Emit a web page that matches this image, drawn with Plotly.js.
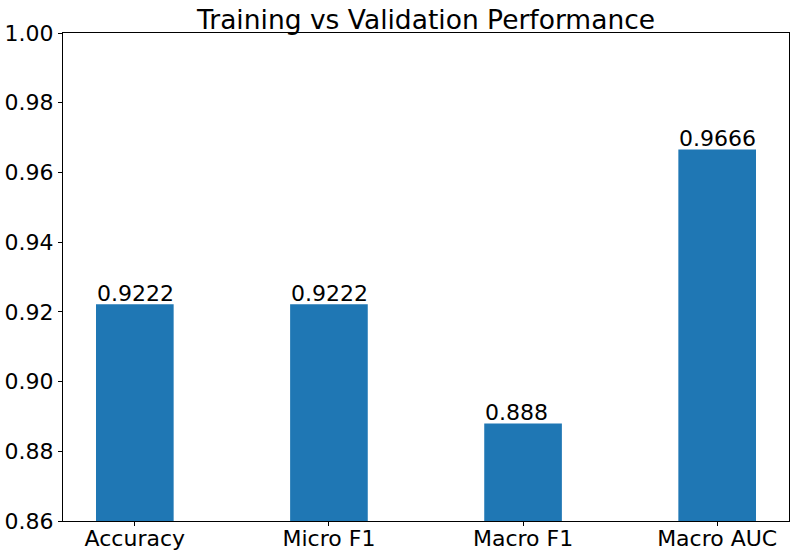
<!DOCTYPE html>
<html>
<head>
<meta charset="utf-8">
<script src="https://cdn.plot.ly/plotly-3.0.1.min.js"></script>
<style>html,body{margin:0;padding:0;background:#fff;}#chart{width:796px;height:556px;}</style>
</head>
<body>
<div id="chart"></div>
<script>
const categories = ["Accuracy", "Micro F1", "Macro F1", "Macro AUC"];
const values = [0.9222, 0.9222, 0.888, 0.9666];
const valueLabels = ["0.9222", "0.9222", "0.888", "0.9666"];
const yTicks = [0.86, 0.88, 0.90, 0.92, 0.94, 0.96, 0.98, 1.00];
const yTickText = ["0.86", "0.88", "0.90", "0.92", "0.94", "0.96", "0.98", "1.00"];

const barWidth = 0.4;
const font = "DejaVu Sans, sans-serif";

const trace = {
  type: "bar",
  x: categories.map((c, i) => i),
  y: values,
  width: barWidth,
  marker: {color: "#1f77b4", line: {width: 0}},
  hoverinfo: "skip"
};

const annotations = values.map((v, i) => ({
  x: i - barWidth / 2,
  y: v,
  xref: "x",
  yref: "y",
  text: valueLabels[i],
  showarrow: false,
  xanchor: "left",
  yanchor: "bottom",
  borderpad: 0,
  yshift: -3,
  font: {family: font, size: 22, color: "#000"}
}));

const layout = {
  width: 796,
  height: 556,
  margin: {l: 63, r: 7, t: 33, b: 35},
  paper_bgcolor: "#fff",
  plot_bgcolor: "#fff",
  showlegend: false,
  title: {
    text: "Training vs Validation Performance",
    font: {family: font, size: 26.5, color: "#000"},
    x: 0.5, xref: "paper",
    y: 1, yref: "paper", yanchor: "bottom",
    pad: {b: 4}
  },
  xaxis: {
    range: [-0.37, 3.37],
    tickmode: "array",
    tickvals: categories.map((c, i) => i),
    ticktext: categories,
    ticks: "outside", ticklen: 4, tickwidth: 1, tickcolor: "#000",
    ticklabelstandoff: -6,
    showgrid: false, zeroline: false,
    showline: true, linecolor: "#000", linewidth: 1, mirror: true,
    tickfont: {family: font, size: 22, color: "#000"}
  },
  yaxis: {
    range: [0.86, 1.00],
    tickmode: "array",
    tickvals: yTicks,
    ticktext: yTickText,
    ticks: "outside", ticklen: 4, tickwidth: 1, tickcolor: "#000",
    showgrid: false, zeroline: false,
    showline: true, linecolor: "#000", linewidth: 1, mirror: true,
    tickfont: {family: font, size: 22, color: "#000"}
  },
  annotations: annotations
};

Plotly.newPlot("chart", [trace], layout, {displayModeBar: false, staticPlot: true});
</script>
</body>
</html>
